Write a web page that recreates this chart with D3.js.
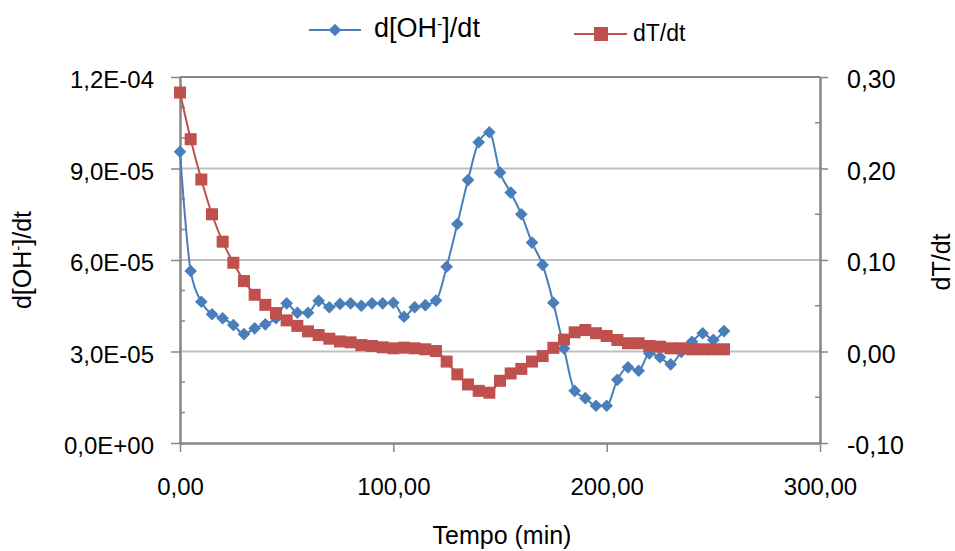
<!DOCTYPE html>
<html>
<head>
<meta charset="utf-8">
<script src="https://cdn.jsdelivr.net/npm/d3@7"></script>
<style>
  body { margin: 0; background: #fff; }
  svg { font-family: "Liberation Sans", Arial, sans-serif; }
</style>
</head>
<body>
<div id="chart"></div>
<script>
// tempo (min), every 5 min
const tempo = [0,5,10,15,20,25,30,35,40,45,50,55,60,65,70,75,80,85,90,95,100,105,110,115,120,125,
  130,135,140,145,150,155,160,165,170,175,180,185,190,195,200,205,210,215,220,225,230,235,240,245,250,255];

// d[OH-]/dt (left axis)
const dOH = [9.55e-5,5.64e-5,4.63e-5,4.22e-5,4.09e-5,3.87e-5,3.57e-5,3.76e-5,3.89e-5,4.09e-5,4.58e-5,4.27e-5,
  4.27e-5,4.66e-5,4.45e-5,4.56e-5,4.58e-5,4.50e-5,4.58e-5,4.58e-5,4.60e-5,4.14e-5,4.45e-5,4.52e-5,4.67e-5,5.78e-5,
  7.18e-5,8.62e-5,9.86e-5,1.019e-4,8.87e-5,8.21e-5,7.50e-5,6.57e-5,5.84e-5,4.60e-5,3.10e-5,1.71e-5,1.47e-5,1.22e-5,
  1.22e-5,2.07e-5,2.48e-5,2.37e-5,2.94e-5,2.81e-5,2.58e-5,2.99e-5,3.32e-5,3.60e-5,3.38e-5,3.67e-5];

// dT/dt (right axis)
const dT = [0.283,0.232,0.188,0.150,0.120,0.097,0.077,0.062,0.051,0.042,0.034,0.028,0.022,0.018,0.014,0.011,
  0.010,0.007,0.006,0.0046,0.0035,0.0042,0.0035,0.0024,0.0005,-0.011,-0.025,-0.036,-0.043,-0.045,-0.032,-0.024,
  -0.019,-0.011,-0.005,0.004,0.013,0.021,0.0235,0.020,0.017,0.0126,0.009,0.009,0.006,0.0053,0.0035,0.0035,
  0.0024,0.0024,0.0024,0.0024];

const xTicks = [0,100,200,300];
const leftTicks = [0,3e-5,6e-5,9e-5,1.2e-4];
const rightTicks = [-0.1,0,0.1,0.2,0.3];

const W = 955, H = 551;
const m = {left: 180, right: 135, top: 77, bottom: 108};
const iw = W - m.left - m.right, ih = H - m.top - m.bottom;

const blue = "#4a7ebb", red = "#c0504d", axisCol = "#868686", gridCol = "#bfbfbf";

const loc = d3.formatLocale({decimal: ",", thousands: ".", grouping: [3], currency: ["", ""], minus: "-"});
const f2 = loc.format(".2f");
function sci(v) {
  if (v === 0) return "0,0E+00";
  const e = Math.floor(Math.log10(Math.abs(v)) + 1e-9);
  const mant = v / Math.pow(10, e);
  const es = (e < 0 ? "-" : "+") + String(Math.abs(e)).padStart(2, "0");
  return loc.format(".1f")(mant) + "E" + es;
}

const svg = d3.select("#chart").append("svg").attr("width", W).attr("height", H);
const g = svg.append("g").attr("transform", `translate(${m.left},${m.top})`);

const x = d3.scaleLinear().domain([0, 300]).range([0, iw]);
const yL = d3.scaleLinear().domain([0, 1.2e-4]).range([ih, 0]);
const yR = d3.scaleLinear().domain([-0.1, 0.3]).range([ih, 0]);

// gridlines
g.selectAll(".grid").data(leftTicks.slice(1)).enter().append("line")
  .attr("x1", 0).attr("x2", iw)
  .attr("y1", d => yL(d)).attr("y2", d => yL(d))
  .attr("stroke", (d, i, n) => i === n.length - 1 ? axisCol : gridCol)
  .attr("stroke-width", 2);

// minor ticks (inside)
const minorL = d3.range(1e-5, 1.2e-4, 1e-5).filter(v => leftTicks.every(t => Math.abs(t - v) > 1e-9));
g.selectAll(".mnl").data(minorL).enter().append("line")
  .attr("x1", 0).attr("x2", 5).attr("y1", d => yL(d)).attr("y2", d => yL(d))
  .attr("stroke", axisCol).attr("stroke-width", 1.5);
const minorR = [-0.05, 0.05, 0.15, 0.25];
g.selectAll(".mnr").data(minorR).enter().append("line")
  .attr("x1", iw - 5).attr("x2", iw).attr("y1", d => yR(d)).attr("y2", d => yR(d))
  .attr("stroke", axisCol).attr("stroke-width", 1.5);

function styleAxis(size) {
  return function(sel) {
    sel.select(".domain").attr("stroke", axisCol).attr("stroke-width", 2.5);
    sel.selectAll(".tick line").attr("stroke", axisCol).attr("stroke-width", 1.5);
    sel.selectAll("text").attr("fill", "#000").attr("font-size", size)
      .attr("font-family", "'Liberation Sans', Arial, sans-serif");
  };
}

g.append("g").attr("transform", `translate(0,${ih})`)
  .call(d3.axisBottom(x).tickValues(xTicks).tickFormat(f2).tickSize(9).tickSizeOuter(0).tickPadding(26))
  .call(styleAxis(24));
g.append("g")
  .call(d3.axisLeft(yL).tickValues(leftTicks).tickFormat(sci).tickSize(9).tickSizeOuter(0).tickPadding(17))
  .call(styleAxis(24))
  .selectAll("text").attr("dy", "0.45em");
g.append("g").attr("transform", `translate(${iw},0)`)
  .call(d3.axisRight(yR).tickValues(rightTicks).tickFormat(f2).tickSize(8).tickSizeOuter(0).tickPadding(19))
  .call(styleAxis(25))
  .selectAll("text").attr("dy", "0.42em");

// series
const lineL = d3.line().x((d, i) => x(tempo[i])).y(d => yL(d)).curve(d3.curveMonotoneX);
const lineR = d3.line().x((d, i) => x(tempo[i])).y(d => yR(d)).curve(d3.curveMonotoneX);

g.append("path").datum(dOH).attr("d", lineL).attr("fill", "none").attr("stroke", blue).attr("stroke-width", 2);
g.append("path").datum(dT).attr("d", lineR).attr("fill", "none").attr("stroke", red).attr("stroke-width", 2);

const diamond = d3.symbol().type(d3.symbolSquare).size(80);
g.selectAll(".dia").data(dOH).enter().append("path")
  .attr("d", diamond)
  .attr("transform", (d, i) => `translate(${x(tempo[i])},${yL(d)}) rotate(45)`)
  .attr("fill", blue);

g.selectAll(".sq").data(dT).enter().append("rect")
  .attr("x", (d, i) => x(tempo[i]) - 6).attr("y", d => yR(d) - 6)
  .attr("width", 12).attr("height", 12)
  .attr("fill", red);

// axis titles
svg.append("text").attr("x", 502).attr("y", 544)
  .attr("text-anchor", "middle").attr("font-size", 25).text("Tempo (min)");

const tl = svg.append("text").attr("transform", "translate(31,260) rotate(-90)")
  .attr("text-anchor", "middle").attr("font-size", 25);
tl.append("tspan").text("d[OH");
tl.append("tspan").attr("baseline-shift", "super").attr("font-size", 15).text("-");
tl.append("tspan").text("]/dt");

svg.append("text").attr("transform", "translate(950,262) rotate(-90)")
  .attr("text-anchor", "middle").attr("font-size", 25).text("dT/dt");

// legend
const lg = svg.append("g");
lg.append("line").attr("x1", 309).attr("x2", 361).attr("y1", 30).attr("y2", 30).attr("stroke", blue).attr("stroke-width", 2);
lg.append("path").attr("d", diamond).attr("transform", "translate(335,30) rotate(45)").attr("fill", blue);
const lt = lg.append("text").attr("x", 374).attr("y", 37).attr("font-size", 27);
lt.append("tspan").text("d[OH");
lt.append("tspan").attr("baseline-shift", "super").attr("font-size", 16).text("-");
lt.append("tspan").text("]/dt");

lg.append("line").attr("x1", 574).attr("x2", 627).attr("y1", 34).attr("y2", 34).attr("stroke", red).attr("stroke-width", 2);
lg.append("rect").attr("x", 594).attr("y", 27).attr("width", 14).attr("height", 14).attr("fill", red);
lg.append("text").attr("x", 633).attr("y", 41).attr("font-size", 23).text("dT/dt");
</script>
</body>
</html>
